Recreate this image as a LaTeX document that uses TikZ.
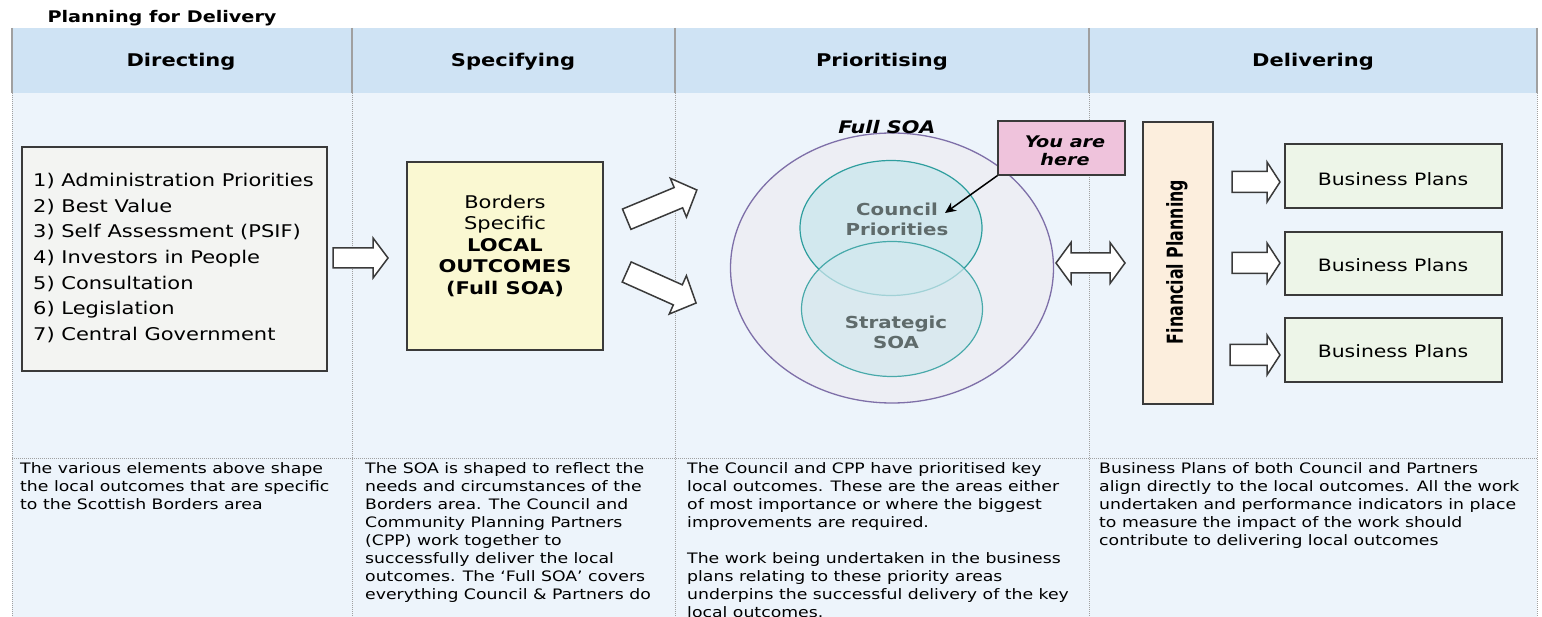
\documentclass[tikz,border=0pt]{standalone}
\usepackage{fontspec}
\setmainfont{DejaVu Sans}[FakeStretch=1.2]
\newfontfamily\fpfont{DejaVu Sans}[FakeStretch=0.72]
\usetikzlibrary{shapes.geometric,arrows.meta}
\definecolor{headblue}{HTML}{CFE3F4}
\definecolor{bodyblue}{HTML}{EDF4FB}
\definecolor{sepgray}{HTML}{A0A0A0}
\definecolor{boxline}{HTML}{3A3A3A}
\definecolor{listfill}{HTML}{F3F4F2}
\definecolor{yellowfill}{HTML}{FAF8D2}
\definecolor{ellfill}{HTML}{EDEEF4}
\definecolor{ellline}{HTML}{7E6FA8}
\definecolor{cirfill}{HTML}{D2E8EE}
\definecolor{cirline}{HTML}{2E9E9E}
\definecolor{cirtext}{HTML}{5F6B6B}
\definecolor{pinkfill}{HTML}{EFC3DC}
\definecolor{peachfill}{HTML}{FCEEDD}
\definecolor{greenfill}{HTML}{EDF5E8}
\tikzset{
  hdrsep/.style={draw=sepgray, line width=1.5},
  dotsep/.style={draw=sepgray, line width=1, dash pattern=on 1pt off 1pt},
  hdrtext/.style={font=\bfseries\fontsize{17.5}{20}\selectfont, inner sep=0},
  boxbase/.style={draw=boxline, line width=1.2, inner sep=0},
  barrowstyle/.style={draw=boxline, fill=white, line width=1.5, line join=miter},
  bottomtext/.style={anchor=north west, align=left, inner sep=0, font=\fontsize{14.4}{18}\selectfont},
  pics/barrow/.style n args={4}{code={
    \draw[barrowstyle] (0,-#2) -- ({#1-#4},-#2) -- ({#1-#4},-#3) -- (#1,0)
      -- ({#1-#4},#3) -- ({#1-#4},#2) -- (0,#2) -- cycle;
  }},
  pics/dbarrow/.style n args={4}{code={
    \draw[barrowstyle] (0,0) -- (#4,-#3) -- (#4,-#2) -- ({#1-#4},-#2) -- ({#1-#4},-#3)
      -- (#1,0) -- ({#1-#4},#3) -- ({#1-#4},#2) -- (#4,#2) -- (#4,#3) -- cycle;
  }}
}
\begin{document}
\begin{tikzpicture}[x=1pt,y=-1pt]
\useasboundingbox (0,0) rectangle (1542,617);
\fill[white] (0,0) rectangle (1542,617);
\fill[bodyblue] (12,93) rectangle (1537,617);
\fill[headblue] (12,28) rectangle (1537,93);
% header separators
\foreach \xx in {12,352,675,1089,1537} {
  \draw[hdrsep] (\xx,28) -- (\xx,93);
  \draw[dotsep] (\xx,93) -- (\xx,617);
}
\draw[dotsep] (12,458) -- (1537,458);

% title and headers
\node[font=\bfseries\fontsize{16}{18}\selectfont, inner sep=0] (title) at (162,18) {Planning for Delivery};
\node[hdrtext] (hdir) at (181,62) {Directing};
\node[hdrtext] (hspec) at (513,62) {Specifying};
\node[hdrtext] (hprio) at (882,62) {Prioritising};
\node[hdrtext] (hdel) at (1313,62) {Delivering};

% directing list
\node[boxbase, fill=listfill, minimum width=305, minimum height=224] (inputs) at (174.5,259) {};
\node[anchor=west, align=left, inner sep=0, font=\fontsize{17.5}{25.7}\selectfont] (inputstext) at (33,258)
 {1) Administration Priorities\\2) Best Value\\3) Self Assessment (PSIF)\\4) Investors in People\\5) Consultation\\6) Legislation\\7) Central Government};

\pic at (333,258) {barrow={55}{10}{20}{15}};

% local outcomes
\node[boxbase, fill=yellowfill, minimum width=196, minimum height=188] (outcomes) at (505,256) {};
\node[align=center, inner sep=0, font=\fontsize{17.5}{21.5}\selectfont] (outcomestext) at (505,246)
 {Borders\\Specific\\\textbf{LOCAL}\\\textbf{OUTCOMES}\\\textbf{(Full SOA)}};

\pic[rotate=22.6] at (626.7,219.2) {barrow={76}{11}{21}{20}};
\pic[rotate=-24.1] at (626.7,272) {barrow={76}{11}{21}{20}};

% SOA circles
\node[ellipse, draw=ellline, fill=ellfill, line width=1.3, minimum width=323, minimum height=270, inner sep=0] (full) at (892,268) {};
\node[ellipse, draw=cirline, fill=cirfill, line width=1.2, minimum width=182, minimum height=135, inner sep=0] (council) at (891,228) {};
\node[ellipse, draw=cirline, fill=cirfill, line width=1.2, fill opacity=0.7, draw opacity=0.85, minimum width=181, minimum height=135, inner sep=0] (strategic) at (892,309) {};
\node[font=\bfseries\itshape\fontsize{17.3}{20}\selectfont, inner sep=0] (fulllabel) at (887,127) {Full SOA};
\node[align=center, text=cirtext, inner sep=0, font=\bfseries\fontsize{16.5}{20}\selectfont] (counciltext) at (897,219) {Council\\Priorities};
\node[align=center, text=cirtext, inner sep=0, font=\bfseries\fontsize{16.5}{20}\selectfont] (strategictext) at (896,332) {Strategic\\SOA};

\node[boxbase, fill=pinkfill, minimum width=127, minimum height=54] (here) at (1061.5,148) {};
\node[align=center, inner sep=0, font=\bfseries\itshape\fontsize{16}{18}\selectfont] (heretext) at (1065,151) {You are\\here};
\coordinate (heretip) at (945,213);
\draw[line width=1.5, -{Stealth[length=11, width=10]}] (here.south west) -- (heretip);

\pic at (1056,263) {dbarrow={69}{10}{20.5}{15}};

% financial planning
\node[boxbase, fill=peachfill, minimum width=70, minimum height=282] (fin) at (1178,263) {};
\node[rotate=90, inner sep=0, font=\fpfont\bfseries\fontsize{22}{22}\selectfont] (fintext) at (1177,262) {Financial Planning};

% business plans
\pic at (1232,182) {barrow={48}{10.5}{20}{13}};
\pic at (1232,263) {barrow={48}{10.5}{20}{13}};
\pic at (1230,355) {barrow={50}{10.5}{20}{13}};
\node[boxbase, fill=greenfill, minimum width=217, minimum height=64] (biz1) at (1393.5,176) {};
\node[boxbase, fill=greenfill, minimum width=217, minimum height=63] (biz2) at (1393.5,263.5) {};
\node[boxbase, fill=greenfill, minimum width=217, minimum height=64] (biz3) at (1393.5,350) {};
\node[inner sep=0, font=\fontsize{17}{20}\selectfont] (biz1t) at (1393,179) {Business Plans};
\node[inner sep=0, font=\fontsize{17}{20}\selectfont] (biz2t) at (1393,265) {Business Plans};
\node[inner sep=0, font=\fontsize{17}{20}\selectfont] (biz3t) at (1393,351) {Business Plans};

% bottom texts
\node[bottomtext] (desc1) at (20,462) {The various elements above shape\\the local outcomes that are specific\\to the Scottish Borders area};
\node[bottomtext] (desc2) at (365,462) {The SOA is shaped to reflect the\\needs and circumstances of the\\Borders area. The Council and\\Community Planning Partners\\(CPP) work together to\\successfully deliver the local\\outcomes. The ‘Full SOA’ covers\\everything Council \& Partners do};
\node[bottomtext] (desc3) at (687,462) {The Council and CPP have prioritised key\\local outcomes. These are the areas either\\of most importance or where the biggest\\improvements are required.\\[18pt]The work being undertaken in the business\\plans relating to these priority areas\\underpins the successful delivery of the key\\local outcomes.};
\node[bottomtext] (desc4) at (1099,462) {Business Plans of both Council and Partners\\align directly to the local outcomes. All the work\\undertaken and performance indicators in place\\to measure the impact of the work should\\contribute to delivering local outcomes};
\end{tikzpicture}
\end{document}
